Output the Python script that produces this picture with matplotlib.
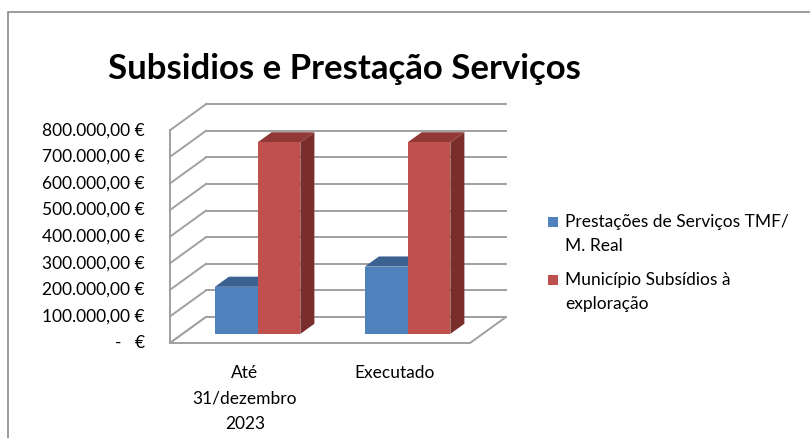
import matplotlib
matplotlib.use('Agg')
import matplotlib.pyplot as plt
from matplotlib.patches import Polygon, Rectangle
from matplotlib.transforms import ScaledTranslation

categories = ['Até\n31/dezembro\n2023', 'Executado']
series_names = ['Prestações de Serviços TMF/\nM. Real', 'Município Subsídios à\nexploração']
prestacoes = [177000, 253000]
subsidios = [720000, 720000]
yticks = [0, 100000, 200000, 300000, 400000, 500000, 600000, 700000, 800000]

front_cols = ['#4F81BD', '#C0504D']
top_cols = ['#3A6190', '#923836']
side_cols = ['#2F4F76', '#7A2E2C']
grid_col = '#A0A0A0'

W, H = 810, 438
fig = plt.figure(figsize=(W / 100, H / 100), dpi=100)

# front plane: x=170..470 px, value 0 at y=343
px0, py0 = 170, 343
unit_px = 150.0            # one category
val_px = 26.6 / 100000     # px per euro
ax = fig.add_axes([px0 / W, (H - py0) / H, (470 - px0) / W, (py0 - 130) / H])
ax.set_xlim(0, (470 - px0) / unit_px)
ax.set_ylim(0, (py0 - 130) / val_px)
for s in ax.spines.values():
    s.set_visible(False)

# depth vector in data units
DX = 36 / unit_px
DY = 26 / val_px
xmax = 2.0
ymax = yticks[-1]


def P(x, v, d):
    return (x + d * DX, v + d * DY)


lw = 1.4
# back wall and left wall gridlines
for v in yticks:
    ax.plot([P(0, v, 1)[0], P(xmax, v, 1)[0]], [P(0, v, 1)[1]] * 2, color=grid_col, lw=lw,
            clip_on=False, zorder=1)
    ax.plot([0, DX], [v, v + DY], color=grid_col, lw=lw, clip_on=False, zorder=1)
ax.plot([0, 0], [0, ymax], color=grid_col, lw=lw, clip_on=False, zorder=1)
# floor
fl = [P(0, 0, 0), P(xmax, 0, 0), P(xmax, 0, 1), P(0, 0, 1)]
ax.add_patch(Polygon(fl, closed=True, fc='white', ec=grid_col, lw=lw, clip_on=False, zorder=1.5))

# bars
w = 0.285
d0, d1 = 0.35, 0.74
for i in range(len(categories)):
    c = i + 0.5
    for k, vals in enumerate([prestacoes, subsidios]):
        xl = c - w if k == 0 else c
        xr = xl + w
        v = vals[i]
        front = [P(xl, 0, d0), P(xr, 0, d0), P(xr, v, d0), P(xl, v, d0)]
        top = [P(xl, v, d0), P(xr, v, d0), P(xr, v, d1), P(xl, v, d1)]
        side = [P(xr, 0, d0), P(xr, 0, d1), P(xr, v, d1), P(xr, v, d0)]
        z = 3 + i * 2 + k
        ax.add_patch(Polygon(side, closed=True, fc=side_cols[k], ec='none', clip_on=False, zorder=z))
        ax.add_patch(Polygon(top, closed=True, fc=top_cols[k], ec='none', clip_on=False, zorder=z))
        ax.add_patch(Polygon(front, closed=True, fc=front_cols[k], ec='none', clip_on=False, zorder=z))


def fmt(v):
    if v == 0:
        return '-   €'
    s = f'{v:,.2f}'.replace(',', 'X').replace('.', ',').replace('X', '.')
    return s + ' €'


font = 'Lato'
ax.set_yticks(yticks)
ax.set_yticklabels([fmt(v) for v in yticks], fontfamily=font, fontsize=12.5, color='black')
shift = ScaledTranslation(0, -3 / 100, fig.dpi_scale_trans)
for lab in ax.get_yticklabels():
    lab.set_va('center')
    lab.set_transform(lab.get_transform() + shift)
ax.set_xticks([0.5, 1.5])
ax.set_xticklabels(categories, fontfamily=font, fontsize=12.5, linespacing=1.72, va='top')
ax.tick_params(axis='y', length=0, pad=18)
ax.tick_params(axis='x', length=0, pad=16)

# title
fig.text(344 / W, 1 - 69 / H, 'Subsidios e Prestação Serviços', ha='center', va='center',
         fontfamily=font, fontweight='bold', fontsize=25)

# legend
leg_y = [222, 280]
for k in range(2):
    fig.patches.append(Rectangle((548 / W, 1 - (leg_y[k] + 5) / H), 10 / W, 10 / H,
                                 transform=fig.transFigure, fc=front_cols[k], ec='none'))
    fig.text(565 / W, 1 - (leg_y[k] - 8) / H, series_names[k], ha='left', va='top',
             fontfamily=font, fontsize=12.5, linespacing=1.65)

# chart frame
fig.patches.append(Rectangle((8 / W, -0.1), 1.2, 1 - 12 / H + 0.1, transform=fig.transFigure,
                             fc='none', ec='#8A8A8A', lw=1.2))

fig.savefig('out.png', dpi=100)
